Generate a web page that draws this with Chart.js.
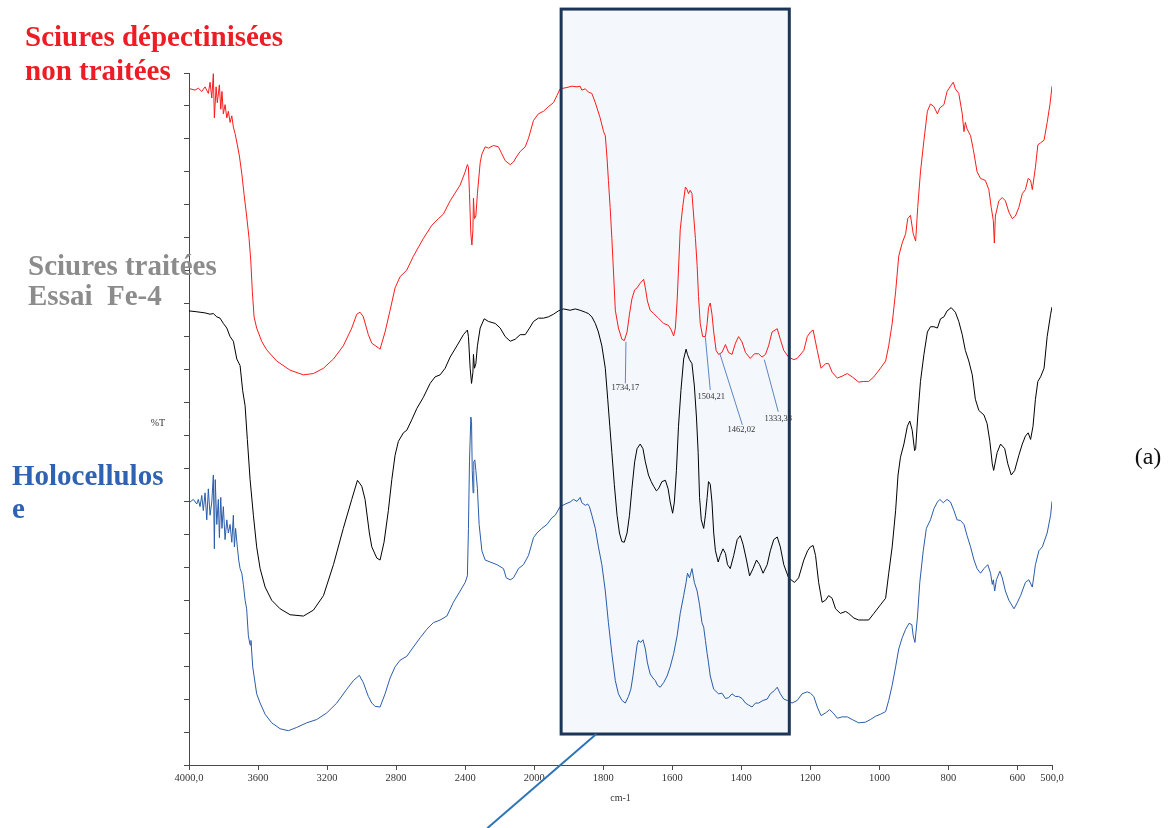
<!DOCTYPE html>
<html>
<head>
<meta charset="utf-8">
<style>
  html, body { margin: 0; padding: 0; background: #fff; }
  #chart { display: block; }
</style>
</head>
<body>
<canvas id="chart" width="1170" height="828"></canvas>
<script src="https://cdn.jsdelivr.net/npm/chart.js@4/dist/chart.umd.min.js"></script>
<script>
// x axis: wavenumber (cm-1), scale changes at 2000
const tickValues = [4000, 3600, 3200, 2800, 2400, 2000, 1800, 1600, 1400, 1200, 1000, 800, 600, 500];
const tickLabels = ['4000,0', '3600', '3200', '2800', '2400', '2000', '1800', '1600', '1400', '1200', '1000', '800', '600', '500,0'];

// Sciures dépectinisées non traitées
const redWn = [3994,3965,3946,3926,3907,3888,3878,3868,3859,3853,3843,3836,3824,3816,3809,3801,3791,3781,3772,3762,3752,3743,3733,3720,3708,3694,3681,3666,3652,3642,3633,3623,3608,3579,3550,3492,3414,3337,3279,3221,3163,3106,3057,3028,3009,2990,2961,2941,2903,2893,2864,2835,2806,2777,2738,2700,2642,2593,2555,2526,2487,2429,2400,2387,2381,2375,2367,2361,2355,2352,2346,2338,2329,2313,2303,2284,2265,2236,2207,2187,2168,2139,2120,2100,2081,2052,2033,2004,1988,1973,1959,1944,1934,1925,1905,1891,1876,1867,1862,1852,1843,1833,1823,1809,1799,1794,1789,1785,1780,1775,1770,1765,1756,1746,1739,1731,1724,1717,1709,1702,1693,1683,1678,1672,1664,1654,1640,1625,1611,1603,1596,1591,1586,1582,1577,1570,1562,1557,1553,1548,1543,1538,1533,1528,1524,1519,1512,1504,1499,1495,1490,1485,1480,1473,1466,1456,1446,1437,1427,1417,1408,1398,1388,1374,1362,1350,1340,1330,1321,1311,1296,1287,1277,1263,1248,1238,1219,1209,1200,1192,1180,1169,1156,1147,1137,1122,1108,1093,1079,1060,1045,1031,1016,997,982,973,963,953,944,934,924,918,910,902,895,889,881,871,861,852,842,832,825,813,804,794,786,780,770,760,755,751,746,736,728,717,707,693,683,676,670,667,664,654,644,635,625,615,606,596,586,577,569,562,557,548,541,533,523,514,506,500];
const redT = [102.6,102.4,102.7,102.2,102.9,101.9,103.6,101.2,104.9,98.2,102.9,100.5,103.2,99.5,102.2,98.8,100.2,98.2,99.2,97.5,98.5,96.8,95.8,94.1,92.4,89.7,86.6,83.3,79.9,76.5,71.8,68.0,66.3,64.3,63.0,61.3,59.9,59.2,59.4,60.2,61.6,63.6,66.3,68.4,68.7,68.0,65.3,64.0,63.3,63.1,65.7,69.0,72.4,74.1,75.1,77.2,79.9,81.9,82.9,83.6,85.6,88.0,90.0,91.1,90.7,86.7,80.6,78.9,81.2,86.0,82.9,83.3,86.7,91.4,92.7,93.8,93.6,94.0,93.8,92.7,91.7,91.1,91.5,92.4,93.1,93.8,95.1,97.8,98.8,99.2,99.9,100.5,101.6,102.6,102.8,103.0,102.9,103.0,102.4,102.6,102.1,101.9,100.5,98.2,96.1,95.5,92.1,88.7,84.6,79.9,74.5,69.0,66.3,64.6,64.4,65.7,68.4,70.7,72.1,72.4,73.1,73.7,72.4,70.4,69.0,68.5,67.8,67.0,66.7,66.0,65.1,66.3,70.4,75.1,81.2,84.6,87.7,87.3,86.7,87.2,86.7,83.3,79.9,75.8,71.1,67.0,65.0,65.0,67.0,69.4,70.1,68.4,65.7,62.9,62.3,62.6,63.8,62.6,62.3,64.0,65.0,64.2,62.6,61.7,62.4,62.4,61.9,62.3,63.6,65.7,66.2,64.6,62.9,61.9,61.5,61.7,62.9,65.0,65.7,66.0,62.9,60.2,60.9,60.9,59.6,58.7,59.0,59.4,58.9,58.1,58.2,58.2,58.9,60.2,61.3,63.6,67.0,71.8,77.2,79.2,80.6,82.9,83.4,80.6,79.5,84.6,90.0,94.8,99.2,100.3,99.9,98.8,99.7,100.2,102.2,103.0,103.6,102.6,101.9,98.8,96.1,97.5,96.5,95.5,93.4,90.0,89.0,88.7,87.3,84.6,82.6,79.2,83.3,85.6,86.1,85.6,83.9,82.9,83.3,84.6,86.7,87.3,89.0,88.7,87.3,90.7,94.1,94.4,94.8,97.5,100.2,103.0];

// Sciures traitées Essai Fe-4
const blackWn = [4000,3965,3936,3907,3878,3859,3839,3820,3801,3781,3762,3743,3723,3704,3689,3675,3662,3646,3627,3608,3588,3559,3521,3472,3414,3337,3279,3221,3163,3106,3057,3024,2999,2980,2955,2941,2912,2893,2870,2845,2825,2806,2787,2758,2738,2709,2680,2642,2603,2574,2545,2516,2487,2448,2410,2387,2381,2371,2363,2355,2352,2346,2338,2329,2313,2290,2265,2226,2197,2168,2139,2110,2081,2052,2027,2004,1988,1973,1959,1944,1930,1915,1896,1881,1867,1852,1843,1833,1823,1814,1804,1794,1787,1781,1775,1768,1760,1753,1746,1739,1731,1724,1717,1709,1702,1693,1685,1678,1669,1661,1654,1646,1640,1630,1620,1612,1606,1599,1594,1588,1582,1575,1567,1560,1556,1550,1543,1536,1530,1525,1521,1516,1509,1504,1499,1495,1490,1485,1480,1475,1467,1461,1453,1446,1440,1432,1422,1412,1403,1395,1385,1376,1366,1356,1347,1337,1325,1316,1306,1296,1287,1277,1263,1246,1234,1219,1208,1200,1192,1185,1176,1166,1156,1147,1137,1127,1113,1098,1089,1074,1060,1045,1031,1016,997,982,973,963,953,946,939,929,919,912,905,898,895,889,881,871,861,852,842,832,823,813,804,792,780,770,760,751,741,731,722,712,697,688,680,673,669,659,649,637,628,618,608,596,586,577,569,562,555,548,541,533,523,514,504,500];
const blackT = [68.9,68.8,68.7,68.6,68.4,68.5,68.0,67.8,67.0,66.3,65.0,64.3,61.6,60.6,56.8,54.5,49.4,43.3,37.9,33.1,29.8,27.0,25.0,23.7,22.8,22.6,23.5,25.7,30.4,35.9,40.3,43.2,42.3,40.3,35.2,33.1,31.4,31.1,33.8,38.6,43.3,47.0,49.1,50.4,50.8,52.4,54.1,55.8,57.9,58.9,59.2,60.2,61.9,63.6,65.3,66.0,65.0,60.2,57.9,59.6,62.3,60.2,60.9,63.6,66.3,67.7,67.3,67.0,66.3,65.0,64.3,64.6,65.3,65.3,66.3,67.3,67.8,67.8,68.0,68.4,68.9,69.2,69.0,69.2,69.0,68.7,68.5,68.0,67.0,65.7,63.6,60.2,55.5,51.4,47.4,42.6,37.9,35.2,33.9,33.8,35.2,37.9,41.9,46.0,48.0,48.7,48.0,46.0,44.0,43.0,42.3,41.6,41.9,43.0,43.2,41.9,39.9,38.2,39.9,44.7,51.4,56.8,61.6,63.1,62.3,61.5,60.9,57.5,52.8,47.4,40.6,37.2,35.9,37.9,40.6,43.0,42.6,39.9,35.2,32.5,30.8,31.8,32.8,32.1,30.4,29.8,31.8,34.2,34.8,33.5,31.1,28.7,29.8,31.1,30.4,29.1,30.4,32.5,34.2,34.6,33.1,30.4,28.4,27.7,28.4,31.1,32.5,33.1,33.3,31.8,27.7,24.7,25.0,25.7,25.3,23.7,23.0,23.3,23.0,22.3,22.0,22.0,22.0,23.0,24.3,25.3,29.1,33.1,38.6,44.0,46.7,48.7,51.4,52.2,50.8,47.7,48.0,52.8,58.2,62.3,65.7,66.5,66.5,66.3,67.7,68.0,68.9,69.4,68.7,67.3,65.3,62.9,61.3,59.2,55.5,53.8,53.1,51.8,49.1,45.7,44.7,47.4,48.7,48.0,45.7,44.0,44.7,47.0,48.7,49.9,50.4,49.4,51.4,55.5,58.2,58.9,60.2,65.0,68.4,69.5];

// Holocellulose
const blueWn = [3994,3975,3955,3946,3936,3926,3917,3907,3897,3888,3878,3868,3859,3853,3848,3839,3830,3824,3816,3809,3801,3791,3781,3772,3762,3752,3743,3737,3730,3720,3712,3704,3694,3685,3675,3666,3656,3646,3641,3631,3623,3608,3588,3559,3521,3472,3424,3376,3318,3260,3202,3144,3086,3048,3013,2990,2961,2941,2922,2893,2864,2835,2806,2777,2738,2700,2661,2622,2584,2545,2506,2468,2429,2400,2387,2381,2375,2367,2363,2359,2354,2350,2344,2338,2329,2319,2303,2284,2255,2216,2178,2162,2139,2120,2091,2062,2033,2004,1992,1978,1963,1949,1939,1925,1910,1896,1886,1876,1867,1862,1852,1845,1840,1833,1823,1814,1804,1794,1785,1775,1765,1756,1746,1736,1727,1720,1714,1707,1702,1698,1691,1685,1678,1672,1664,1656,1649,1643,1635,1625,1615,1606,1596,1586,1577,1567,1560,1556,1550,1543,1536,1528,1521,1514,1509,1504,1499,1495,1490,1480,1466,1456,1446,1437,1427,1417,1408,1398,1388,1379,1369,1359,1350,1337,1325,1316,1304,1296,1287,1277,1267,1253,1238,1224,1209,1200,1190,1180,1169,1156,1144,1134,1122,1108,1093,1079,1060,1040,1026,1011,997,982,973,963,953,944,934,924,914,906,902,897,890,883,873,864,852,842,832,825,815,804,794,784,775,765,755,746,736,726,717,707,697,686,678,673,670,666,661,651,644,635,625,610,600,591,577,567,557,548,538,528,514,504,500];
const blueT = [39.9,40.3,39.6,40.3,39.2,40.9,38.6,41.3,37.2,41.9,37.9,39.9,44.0,32.8,43.3,36.5,40.3,34.5,40.6,35.9,39.2,34.2,37.2,35.2,36.5,33.8,37.9,33.1,35.9,33.1,31.1,29.8,29.1,27.4,25.0,23.7,19.6,18.2,18.9,14.9,13.5,10.8,9.4,7.7,6.4,5.5,5.2,5.7,6.4,6.9,7.9,9.4,11.5,12.8,13.6,12.5,10.4,9.4,8.9,8.8,10.8,13.2,14.9,15.9,16.5,17.9,19.3,20.6,21.6,22.0,22.6,24.7,26.4,27.7,28.7,35.9,46.0,52.8,52.1,44.7,41.3,46.0,46.3,44.7,41.9,36.5,32.5,31.1,30.8,30.4,29.8,28.4,28.1,28.4,29.8,30.4,31.8,34.5,35.2,35.9,36.5,37.5,37.9,39.2,39.6,39.9,40.3,40.0,40.6,39.8,39.4,39.6,39.2,37.9,35.9,33.1,30.4,26.4,21.6,16.9,12.8,10.8,9.8,9.4,10.4,11.5,13.5,16.2,18.2,18.9,18.6,19.0,17.6,15.5,13.8,13.2,12.8,12.1,11.8,12.5,13.5,14.9,16.9,19.6,23.0,25.7,27.7,29.1,28.4,29.8,27.7,26.4,24.3,21.6,20.9,18.9,16.9,15.5,13.5,11.5,10.8,10.9,10.1,10.2,10.8,10.4,10.4,10.1,9.4,9.1,8.8,9.4,9.4,9.8,10.0,10.8,11.3,11.8,10.8,10.0,9.8,9.4,9.8,10.8,11.1,10.9,10.4,8.8,7.5,7.9,8.4,7.9,7.1,7.3,7.3,6.9,6.4,6.5,6.9,7.4,7.7,8.1,9.8,12.1,14.9,17.6,19.3,20.6,21.5,21.3,19.6,18.6,22.3,27.7,32.5,35.9,37.2,38.9,39.9,40.3,39.8,40.3,39.9,38.6,37.2,37.1,36.5,34.8,33.1,31.1,29.8,29.1,29.8,30.4,29.1,27.4,28.1,26.4,28.1,29.4,28.4,26.4,25.0,23.7,24.7,25.7,27.7,28.1,27.0,30.4,32.5,33.1,35.2,37.9,40.0];

// highlighted region and its callout
const zoomBoxWn = [1922, 1261];
const zoomBoxT = [4.7, 114.7];
const calloutWn = [1820, 2272];
const calloutT = [4.7, -9.6];

// peak annotations on the red spectrum
const peakLabels = ['1734,17', '1504,21', '1462,02', '1333,38'];
const peakWn = [1734.17, 1504.21, 1462.02, 1333.38];
const peakT = [64.2, 64.9, 62.4, 61.5];
const peakTipWn = [1736, 1490, 1397, 1293];
const peakTipT = [57.9, 56.9, 51.6, 53.6];
const peakLabelWn = [1736, 1487, 1400, 1293];
const peakLabelT = [57.2, 55.8, 50.8, 52.5];

// piecewise wavenumber axis: 4000-2000 takes 40% of the width, 2000-500 the rest
class FtirScale extends Chart.LinearScale {
  buildTicks() {
    return tickValues.map(v => ({ value: v }));
  }
  getPixelForValue(value) {
    const d = value >= 2000 ? (4000 - value) / 2000 * 0.4 : 0.4 + (2000 - value) / 1500 * 0.6;
    return this.getPixelForDecimal(d);
  }
  getValueForPixel(pixel) {
    const d = this.getDecimalForPixel(pixel);
    return d <= 0.4 ? 4000 - d / 0.4 * 2000 : 2000 - (d - 0.4) / 0.6 * 1500;
  }
}
FtirScale.id = 'ftir';
FtirScale.defaults = {};
Chart.register(FtirScale);

const toPoints = (wn, t) => wn.map((w, i) => ({ x: w, y: t[i] }));

const serif = "'Liberation Serif', 'DejaVu Serif', serif";

const decor = {
  id: 'decor',
  beforeDatasetsDraw(chart) {
    const { ctx, scales: { x, y } } = chart;
    const l = x.getPixelForValue(zoomBoxWn[0]);
    const r = x.getPixelForValue(zoomBoxWn[1]);
    const t = y.getPixelForValue(zoomBoxT[1]);
    const b = y.getPixelForValue(zoomBoxT[0]);
    ctx.save();
    ctx.fillStyle = '#f4f7fc';
    ctx.fillRect(l, t, r - l, b - t);
    ctx.restore();
  },
  afterDatasetsDraw(chart) {
    const { ctx, scales: { x, y } } = chart;
    ctx.save();
    // box outline
    const l = x.getPixelForValue(zoomBoxWn[0]);
    const r = x.getPixelForValue(zoomBoxWn[1]);
    const t = y.getPixelForValue(zoomBoxT[1]);
    const b = y.getPixelForValue(zoomBoxT[0]);
    ctx.strokeStyle = '#1c3557';
    ctx.lineWidth = 3;
    ctx.strokeRect(l, t, r - l, b - t);
    // callout line
    ctx.strokeStyle = '#2e75b6';
    ctx.lineWidth = 2;
    ctx.beginPath();
    ctx.moveTo(x.getPixelForValue(calloutWn[0]), y.getPixelForValue(calloutT[0]));
    ctx.lineTo(x.getPixelForValue(calloutWn[1]), y.getPixelForValue(calloutT[1]));
    ctx.stroke();
    // peak leaders and labels
    ctx.strokeStyle = '#5b86c8';
    ctx.lineWidth = 1;
    ctx.fillStyle = '#333';
    ctx.font = '8.5px ' + serif;
    ctx.textAlign = 'center';
    ctx.textBaseline = 'middle';
    peakLabels.forEach((lab, i) => {
      ctx.beginPath();
      ctx.moveTo(x.getPixelForValue(peakWn[i]), y.getPixelForValue(peakT[i]));
      ctx.lineTo(x.getPixelForValue(peakTipWn[i]), y.getPixelForValue(peakTipT[i]));
      ctx.stroke();
      ctx.fillText(lab, x.getPixelForValue(peakLabelWn[i]), y.getPixelForValue(peakLabelT[i]));
    });
    ctx.restore();
  },
  afterDraw(chart) {
    const { ctx, chartArea, scales: { y } } = chart;
    ctx.save();
    // y axis title
    ctx.fillStyle = '#333';
    ctx.font = '10px ' + serif;
    ctx.textAlign = 'center';
    ctx.textBaseline = 'middle';
    ctx.fillText('%T', chartArea.left - 31, y.getPixelForValue(51.8));
    // series names
    ctx.textAlign = 'left';
    ctx.textBaseline = 'alphabetic';
    ctx.font = 'bold 29px ' + serif;
    ctx.fillStyle = '#ee1c24';
    ctx.fillText('Sciures dépectinisées', 25, 46);
    ctx.fillText('non traitées', 25, 80);
    ctx.fillStyle = '#8c8c8c';
    ctx.fillText('Sciures traitées', 28, 275);
    ctx.fillText('Essai  Fe-4', 28, 305);
    ctx.fillStyle = '#2f62b2';
    ctx.fillText('Holocellulos', 12, 485);
    ctx.fillText('e', 12, 518);
    // panel tag
    ctx.fillStyle = '#111';
    ctx.font = '24px ' + serif;
    ctx.textAlign = 'center';
    ctx.textBaseline = 'middle';
    ctx.fillText('(a)', 1148, 458);
    ctx.restore();
  }
};

const axisColor = '#4a4a4a';

new Chart(document.getElementById('chart'), {
  type: 'scatter',
  data: {
    datasets: [
      { label: 'Sciures dépectinisées non traitées', data: toPoints(redWn, redT), borderColor: '#ff1a1a' },
      { label: 'Sciures traitées Essai Fe-4', data: toPoints(blackWn, blackT), borderColor: '#000000' },
      { label: 'Holocellulose', data: toPoints(blueWn, blueT), borderColor: '#2a5caa' }
    ]
  },
  options: {
    responsive: false,
    animation: false,
    events: [],
    datasets: {
      scatter: { showLine: true, pointRadius: 0, borderWidth: 1, tension: 0, fill: false }
    },
    layout: { padding: { top: 73, right: 118, bottom: 22, left: 0 } },
    plugins: {
      legend: { display: false },
      tooltip: { enabled: false }
    },
    scales: {
      x: {
        type: 'ftir',
        min: 500,
        max: 4000,
        afterFit: s => { s.height = 41; },
        grid: { display: true, drawOnChartArea: false, drawTicks: true, tickLength: 5, color: axisColor },
        border: { display: true, color: axisColor, width: 1 },
        ticks: {
          autoSkip: false,
          maxRotation: 0,
          padding: 2,
          color: '#333',
          font: { family: serif, size: 10.5 },
          callback: v => tickLabels[tickValues.indexOf(v)]
        },
        title: {
          display: true,
          text: 'cm-1',
          color: '#333',
          font: { family: serif, size: 10 },
          padding: { top: 0, bottom: 2 }
        }
      },
      y: {
        min: 0,
        max: 105,
        afterFit: s => { s.width = 189; },
        grid: { display: true, drawOnChartArea: false, drawTicks: true, tickLength: 5, color: axisColor },
        border: { display: true, color: axisColor, width: 1 },
        ticks: { stepSize: 5, display: false }
      }
    }
  },
  plugins: [decor]
});
</script>
</body>
</html>
